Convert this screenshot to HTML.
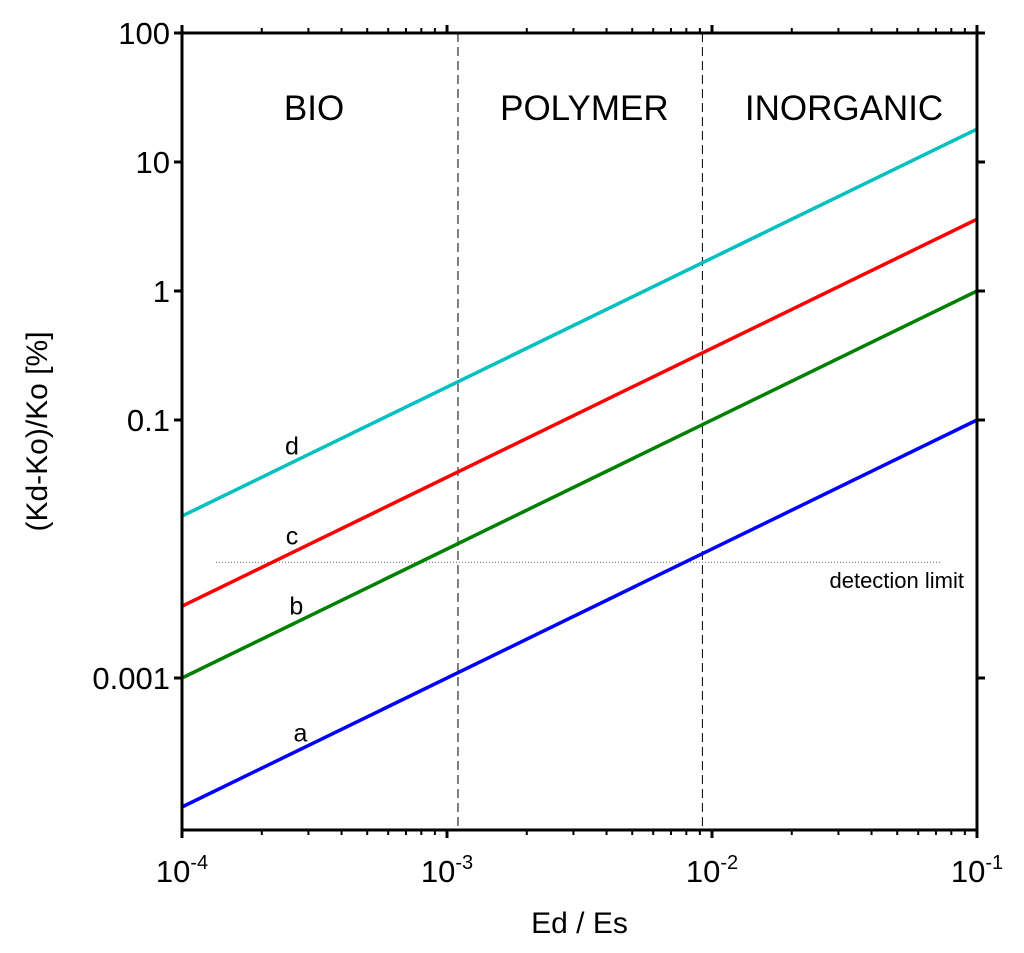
<!DOCTYPE html>
<html><head><meta charset="utf-8"><style>
html,body{margin:0;padding:0;background:#fff;}
svg{display:block;font-family:"Liberation Sans",Arial,sans-serif;}
</style></head><body>
<svg id="chart" width="1024" height="953" viewBox="0 0 1024 953" xmlns="http://www.w3.org/2000/svg"></svg>
<script>
// data
const seriesNames = ['a','b','c','d'];
const seriesCoef = [1, 10, 36, 180]; // value(%) = coef * x
const seriesColors = ['#0000ff','#008000','#ff0000','#00c0c0'];
const labelX = [2.8e-4, 2.7e-4, 2.6e-4, 2.6e-4];
const yTickVals = [100, 10, 1, 0.1, 0.001];
const yTickLabels = ['100','10','1','0.1','0.001'];
const xTickExp = [-4, -3, -2, -1];
const regionBounds = [1.1e-3, 9.2e-3];
const regionLabels = ['BIO','POLYMER','INORGANIC'];
const regionLabelX = [3.15e-4, 3.3e-3, 3.15e-2];
const detectionLimit = 0.0079;

const svg = document.getElementById('chart');
const NS = 'http://www.w3.org/2000/svg';
const L = 182, R = 977, T = 33, B = 830;
const xmin = -4, xmax = -1;
const yTop = 2, decPx = 129;
const X = v => L + (Math.log10(v) - xmin) / (xmax - xmin) * (R - L);
const Y = v => T + (yTop - Math.log10(v)) * decPx;
function el(tag, attrs, parent) {
  const e = document.createElementNS(NS, tag);
  for (const k in attrs) e.setAttribute(k, attrs[k]);
  (parent || svg).appendChild(e);
  return e;
}
regionBounds.forEach((b, i) => {
  const ln = el('line', {x1: X(b), x2: X(b), y1: T, y2: B, stroke: '#000', 'stroke-width': 1, 'stroke-dasharray': '9,5'});
  
  
});
regionLabels.forEach((t, i) => {
  const tx = el('text', {x: X(regionLabelX[i]), y: 120, 'font-size': 35, 'text-anchor': 'middle'});
  tx.textContent = t;
  
  
});
const dl = el('line', {x1: 216, x2: 940, y1: Y(detectionLimit), y2: Y(detectionLimit), stroke: '#666', 'stroke-width': 1, 'stroke-dasharray': '1,2'});


const dlt = el('text', {x: 964, y: Y(detectionLimit) + 26, 'font-size': 22, 'text-anchor': 'end'});
dlt.textContent = 'detection limit';


seriesNames.forEach((n, i) => {
  const c = seriesCoef[i];
  const ln = el('line', {x1: X(1e-4), y1: Y(c * 1e-4), x2: X(1e-1), y2: Y(c * 1e-1), stroke: seriesColors[i], 'stroke-width': 3.5});
  
  
  const lx = labelX[i];
  const t = el('text', {x: X(lx), y: Y(c * lx) - 8, 'font-size': 25, 'text-anchor': 'middle'});
  t.textContent = n;
  
  
});
const fr = el('rect', {x: L, y: T, width: R - L, height: B - T, fill: 'none', stroke: '#000', 'stroke-width': 3});


yTickVals.forEach((v, i) => {
  const y = Y(v);
  el('line', {x1: L - 8, x2: L, y1: y, y2: y, stroke: '#000', 'stroke-width': 3});
  el('line', {x1: R, x2: R + 8, y1: y, y2: y, stroke: '#000', 'stroke-width': 3});
  const t = el('text', {x: L - 12, y: y + 11, 'font-size': 31, 'text-anchor': 'end'});
  t.textContent = yTickLabels[i];
  
  
});
xTickExp.forEach((e, i) => {
  const x = X(Math.pow(10, e));
  el('line', {x1: x, x2: x, y1: B, y2: B + 8, stroke: '#000', 'stroke-width': 3});
  el('line', {x1: x, x2: x, y1: T - 8, y2: T, stroke: '#000', 'stroke-width': 3});
  const t = el('text', {x: x, y: 882, 'font-size': 31, 'text-anchor': 'middle'});
  t.innerHTML = '10<tspan dy="-13" font-size="20">' + e + '</tspan>';
  
  
  if (i < xTickExp.length - 1) {
    for (let m = 2; m <= 9; m++) {
      const xm = X(m * Math.pow(10, e));
      el('line', {x1: xm, x2: xm, y1: B, y2: B + 5, stroke: '#000', 'stroke-width': 2});
      el('line', {x1: xm, x2: xm, y1: T - 5, y2: T, stroke: '#000', 'stroke-width': 2});
    }
  }
});
const xt = el('text', {x: (L + R) / 2, y: 933, 'font-size': 30, 'text-anchor': 'middle'});
xt.textContent = 'Ed / Es';


const yt = el('text', {x: 0, y: 0, 'font-size': 30, 'text-anchor': 'middle', transform: 'translate(47,' + ((T + B) / 2) + ') rotate(-90)'});
yt.textContent = '(Kd-Ko)/Ko [%]';


</script>
</body></html>
